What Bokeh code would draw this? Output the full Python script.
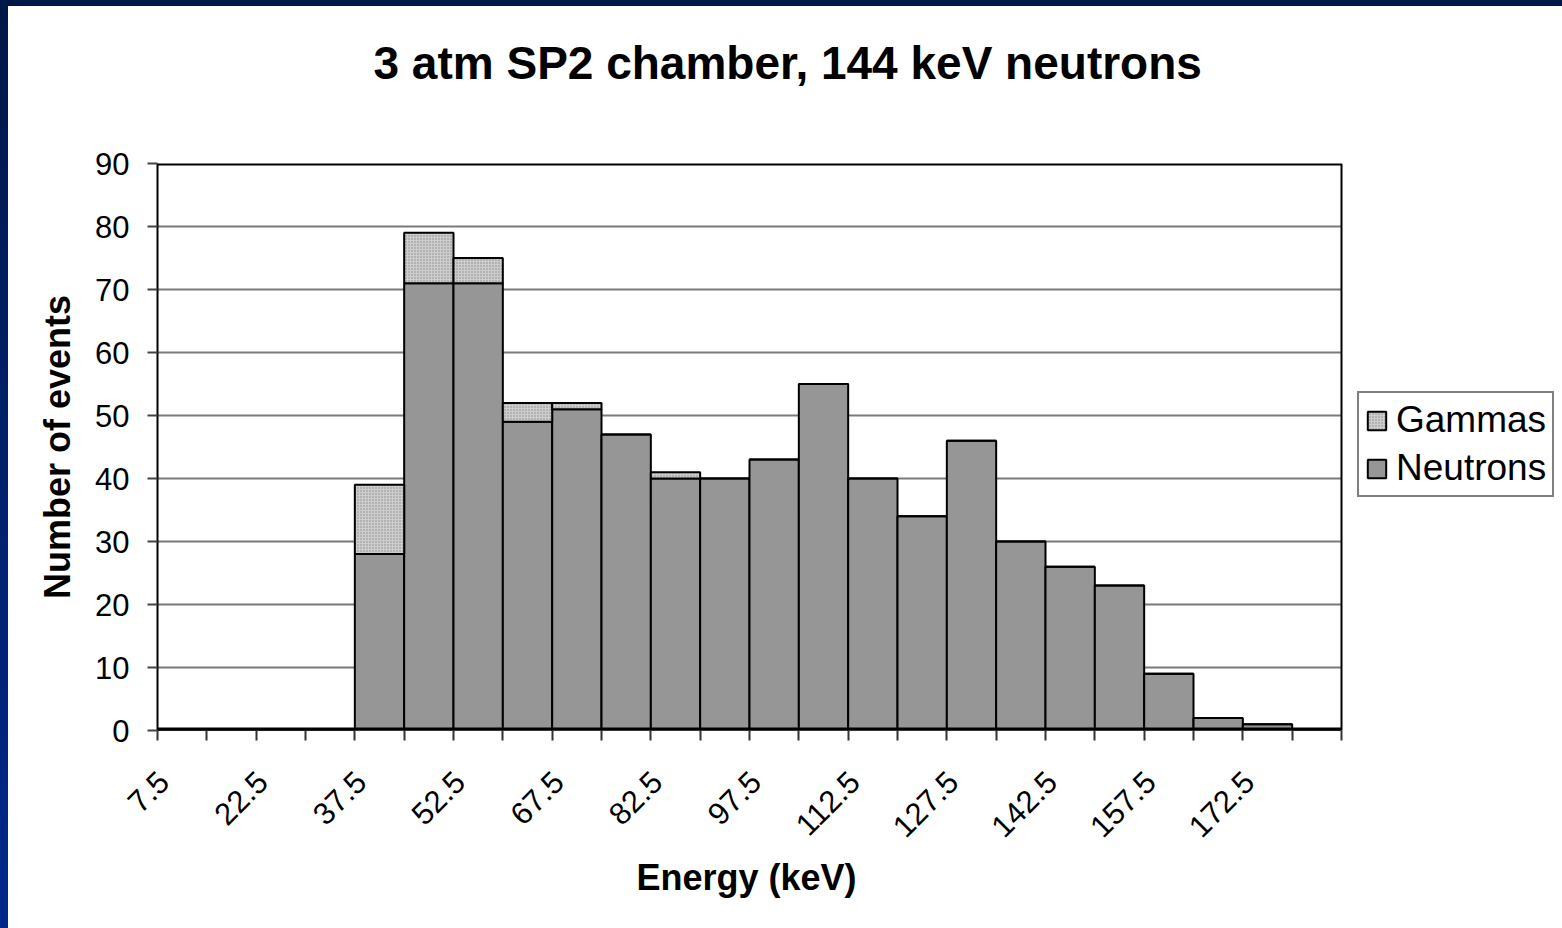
import math
from bokeh.plotting import figure
from bokeh.models import (Range1d, FixedTicker, Legend, LegendItem, ColumnDataSource, Title)
from bokeh.layouts import column
from bokeh.embed import file_html
from bokeh.resources import INLINE

# ---- data ----
energies = [7.5 * (i + 1) for i in range(24)]  # 7.5 ... 180 keV bin centres
neutrons = [0, 0, 0, 0, 28, 71, 71, 49, 51, 47, 40, 40, 43, 55, 40, 34, 46, 30, 26, 23, 9, 2, 1, 0]
gammas   = [0, 0, 0, 0, 11, 8, 4, 3, 1, 0, 1, 0, 0, 0, 0, 0, 0, 0, 0, 0, 0, 0, 0, 0]
label_energies = energies[0::2]  # 7.5, 22.5, ... 172.5
y_ticks = list(range(0, 91, 10))
bin_width = 7.5

NEUTRON_STYLE = dict(fill_color="#969696", line_color="black", line_width=2)
GAMMA_STYLE = dict(fill_color="#cdcdcd", hatch_pattern="dot", hatch_color="#8a8a8a",
                   hatch_scale=3, hatch_weight=1.5, line_color="black", line_width=2)

totals = [n + g for n, g in zip(neutrons, gammas)]
src = ColumnDataSource(dict(x=energies, n=neutrons, g=gammas, t=totals))

# layout (pixels)
W, H = 1554, 922
LEFT, TOP, BOTTOM = 149, 157, 198
AXES_W = 1184                      # width of the drawn plot box
FRAME_W = W - LEFT                 # frame runs to the right edge (legend sits inside it)

x_start = energies[0] - bin_width / 2
x_stop = energies[-1] + bin_width / 2
x_end = x_start + (x_stop - x_start) * FRAME_W / AXES_W

p = figure(width=W, height=H, output_backend="svg", toolbar_location=None,
           title_location=None,
           x_range=Range1d(x_start, x_end), y_range=Range1d(y_ticks[0], y_ticks[-1]),
           min_border_left=LEFT, min_border_right=0, min_border_top=TOP, min_border_bottom=BOTTOM,
           background_fill_color="white", border_fill_color="white")
p.outline_line_color = None

# spacer (closest to the frame) then the real title
p.add_layout(Title(text=" ", text_font_size="10px", standoff=62), "above")
p.add_layout(Title(text="3 atm SP2 chamber, 144 keV neutrons",
                   text_font="Liberation Sans", text_font_size="46px",
                   text_font_style="bold", text_color="black",
                   align="left", offset=216, standoff=0), "above")

# horizontal grid lines, restricted to the plot box
inner = y_ticks[1:-1]
p.segment(x0=[x_start] * len(inner), x1=[x_stop] * len(inner), y0=inner, y1=inner,
          line_color="#7a7a7a", line_width=2, level="underlay")

# bars
rn = p.vbar(x="x", width=bin_width, top="n", bottom=0, source=src, **NEUTRON_STYLE)
rg = p.vbar(x="x", width=bin_width, top="t", bottom="n", source=src, **GAMMA_STYLE)

# plot box: bottom, top, right edges
p.segment(x0=[x_start, x_start, x_stop], x1=[x_stop, x_stop, x_stop],
          y0=[y_ticks[0], y_ticks[-1], y_ticks[0]], y1=[y_ticks[0], y_ticks[-1], y_ticks[-1]],
          line_color="black", line_width=[6, 4, 2])

# x axis: ticks at bin edges, labels every second bin
label_shift = 0.38 * bin_width
label_ticks = [e - label_shift for e in label_energies]
xa = p.xaxis[0]
xa.ticker = FixedTicker(ticks=label_ticks,
                        minor_ticks=[e - bin_width / 2 for e in energies] + [x_stop])
xa.major_label_overrides = {t: ("%g" % e) for t, e in zip(label_ticks, label_energies)}
xa.major_tick_out = 0
xa.major_tick_in = 0
xa.minor_tick_out = 10
xa.minor_tick_in = 0
xa.minor_tick_line_color = "#333333"
xa.minor_tick_line_width = 2
xa.axis_line_color = None
xa.major_label_orientation = math.pi / 4
xa.major_label_text_font = "Liberation Sans"
xa.major_label_text_font_size = "31px"
xa.major_label_text_color = "black"
xa.major_label_standoff = 36

p.add_layout(Title(text="Energy (keV)", text_font="Liberation Sans", text_font_size="36px",
                   text_font_style="bold", text_color="black",
                   align="left", offset=479, standoff=10), "below")

# y axis
ya = p.yaxis[0]
ya.ticker = FixedTicker(ticks=y_ticks)
ya.major_tick_out = 10
ya.major_tick_in = 0
ya.major_tick_line_color = "#444444"
ya.major_tick_line_width = 2
ya.minor_tick_out = 0
ya.minor_tick_in = 0
ya.axis_line_color = "black"
ya.axis_line_width = 2
ya.major_label_text_font = "Liberation Sans"
ya.major_label_text_font_size = "31px"
ya.major_label_text_color = "black"
ya.major_label_standoff = 18
ya.axis_label = "Number of events"
ya.axis_label_text_font = "Liberation Sans"
ya.axis_label_text_font_size = "36px"
ya.axis_label_text_font_style = "bold"
ya.axis_label_text_color = "black"
ya.axis_label_standoff = 14

p.xgrid.grid_line_color = None
p.ygrid.grid_line_color = None

legend = Legend(items=[LegendItem(label="Gammas", renderers=[rg]),
                       LegendItem(label="Neutrons", renderers=[rn])],
                location=(1200, 233), orientation="vertical",
                label_text_font="Liberation Sans", label_text_font_size="37px",
                label_text_color="black",
                glyph_width=23, glyph_height=23, label_standoff=8,
                spacing=6, padding=6, margin=0,
                border_line_color="black", border_line_width=2,
                background_fill_color="white", background_fill_alpha=1.0)
p.add_layout(legend)

lay = column(p, styles={"background": "white",
                        "border-style": "solid",
                        "border-width": "6px 0px 0px 8px",
                        "border-image": "linear-gradient(#001848, #00288c) 1"})

open("out.html", "w").write(file_html(lay, INLINE))
